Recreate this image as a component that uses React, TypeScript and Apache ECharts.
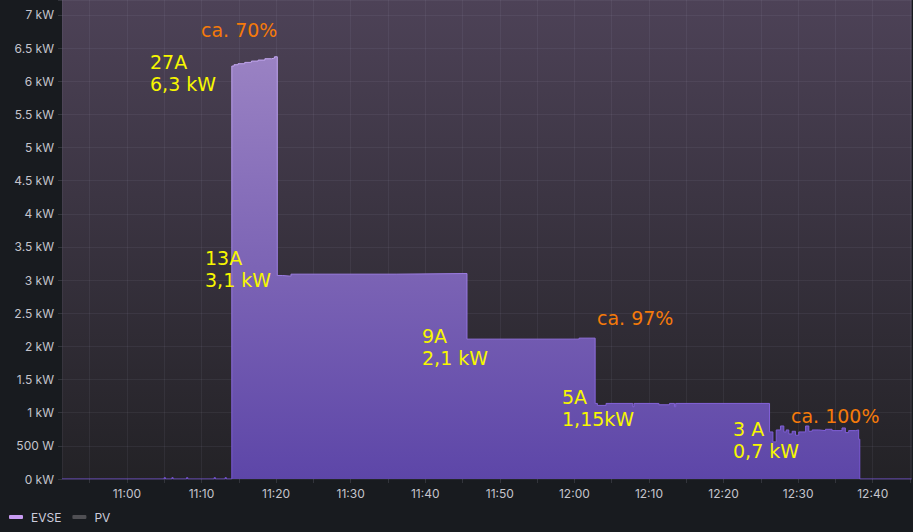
import React, { useEffect, useRef } from "react";
import * as echarts from "echarts";

// ---- data ----
const evseTimes: string[] = [
  "10:51:18", "11:05:00", "11:05:10", "11:06:02", "11:06:12", "11:08:00", "11:08:10",
  "11:11:42", "11:11:52", "11:13:10", "11:13:20",
  "11:14:04", "11:14:22", "11:14:54", "11:15:48", "11:16:42", "11:17:36", "11:18:30", "11:19:24", "11:19:48",
  "11:20:10", "11:20:50", "11:22:00", "11:36:06",
  "11:45:36", "12:00:38",
  "12:02:47", "12:03:05", "12:04:15", "12:07:50", "12:08:00", "12:11:20", "12:12:45", "12:13:25", "12:13:35",
  "12:26:10", "12:26:37", "12:27:04", "12:27:38", "12:28:05", "12:28:24", "12:28:45", "12:29:12", "12:29:39",
  "12:30:05", "12:31:00", "12:31:26", "12:31:53", "12:32:46", "12:33:40", "12:34:33", "12:35:53", "12:36:20",
  "12:36:47", "12:37:41", "12:38:07", "12:38:16", "12:45:13",
];
const evseValues: number[] = [
  0, 0.02, 0, 0.02, 0, 0.02, 0,
  0.02, 0, 0.02, 0,
  6.23, 6.25, 6.265, 6.285, 6.305, 6.32, 6.34, 6.35, 6.37,
  3.07, 3.06, 3.09, 3.1,
  2.11, 2.125,
  1.14, 1.11, 1.14, 1.09, 1.14, 1.12, 1.14, 1.09, 1.14,
  0.71, 0.56, 0.74, 0.8, 0.71, 0.74, 0.68, 0.72, 0.66,
  0.71, 0.8, 0.72, 0.74, 0.73, 0.75, 0.73, 0.77, 0.7,
  0.73, 0.74, 0.6, 0, 0,
];
const pvValues: number[] = [];
const seriesNames = ["EVSE", "PV"];
const axisStart = "10:51:18";
const axisEnd = "12:45:13";

// annotations: text lines, colour
const annotations: { lines: string[]; color: string; x: number; y: number }[] = [
  { lines: ["ca. 70%"], color: "#f57a0a", x: 201, y: 29.5 },
  { lines: ["27A", "6,3 kW"], color: "#f7f700", x: 150, y: 62 },
  { lines: ["13A", "3,1 kW"], color: "#f7f700", x: 205, y: 258 },
  { lines: ["9A", "2,1 kW"], color: "#f7f700", x: 422, y: 336 },
  { lines: ["ca. 97%"], color: "#f57a0a", x: 597, y: 317.5 },
  { lines: ["5A", "1,15kW"], color: "#f7f700", x: 562, y: 397 },
  { lines: ["3 A", "0,7 kW"], color: "#f7f700", x: 733, y: 429 },
  { lines: ["ca. 100%"], color: "#f57a0a", x: 791, y: 415.5 },
];

const toTs = (s: string) => {
  const [h, m, sec] = s.split(":").map(Number);
  return new Date(2023, 5, 1, h, m, sec).getTime();
};
const pad = (n: number) => (n < 10 ? "0" + n : "" + n);

export default function App() {
  const ref = useRef<HTMLDivElement>(null);
  useEffect(() => {
    document.body.style.margin = "0";
    document.body.style.background = "#181b1f";
    const chart = echarts.init(ref.current!, null, { renderer: "svg" });
    const data = evseTimes.map((t, i) => [toTs(t), evseValues[i]]);
    const graphics: any[] = [];
    annotations.forEach((a) => {
      a.lines.forEach((line, j) => {
        graphics.push({
          type: "text",
          x: a.x,
          y: a.y + j * 22,
          z: 100,
          style: {
            text: line,
            fill: a.color,
            font: '19px "DejaVu Sans"',
            textVerticalAlign: "middle",
            verticalAlign: "middle",
            textAlign: "left",
          },
        });
      });
    });
    chart.setOption({
      animation: false,
      backgroundColor: "#181b1f",
      grid: {
        left: 62,
        right: 0,
        top: 0,
        bottom: 53,
        show: true,
        borderWidth: 0,
        backgroundColor: new echarts.graphic.LinearGradient(0, 0, 0, 1, [
          { offset: 0, color: "#4d4257" },
          { offset: 1, color: "#232226" },
        ]),
      },
      legend: {
        left: 9,
        top: 511,
        padding: 0,
        icon: "roundRect",
        itemWidth: 14,
        itemHeight: 4,
        itemGap: 11,
        textStyle: { color: "#ccccdc", fontFamily: "Inter", fontSize: 12, padding: [0, 0, 0, 3] },
        data: [
          { name: seriesNames[0], itemStyle: { color: "#c79bf2" } },
          { name: seriesNames[1], itemStyle: { color: "#4f4f53" } },
        ],
      },
      xAxis: {
        type: "time",
        min: toTs(axisStart),
        max: toTs(axisEnd),
        minInterval: 600000,
        maxInterval: 600000,
        axisLine: { show: false },
        axisTick: { show: true, length: 4, lineStyle: { color: "rgba(204,204,220,0.15)" } },
        splitLine: { show: true, lineStyle: { color: "rgba(204,204,220,0.07)", width: 1 } },
        axisLabel: {
          color: "#c4c4cc",
          fontFamily: "Inter",
          fontSize: 12,
          margin: 8,
          showMinLabel: false,
          showMaxLabel: false,
          formatter: (v: number) => {
            const d = new Date(v);
            if (d.getMinutes() % 10 !== 0 || d.getSeconds() !== 0) return "";
            return pad(d.getHours()) + ":" + pad(d.getMinutes());
          },
        },
      },
      yAxis: {
        type: "value",
        min: 0,
        max: 7.226,
        interval: 0.5,
        axisLine: { show: false },
        axisTick: { show: true, length: 4, lineStyle: { color: "rgba(204,204,220,0.15)" } },
        splitLine: { show: true, lineStyle: { color: "rgba(204,204,220,0.07)", width: 1 } },
        axisLabel: {
          color: "#c4c4cc",
          fontFamily: "Inter",
          fontSize: 12,
          margin: 8,
          formatter: (v: number) => {
            const r = Math.round(v * 2) / 2;
            if (Math.abs(r - v) > 1e-6) return "";
            if (r === 0) return "0 kW";
            if (r === 0.5) return "500 W";
            return r + " kW";
          },
        },
      },
      series: [
        {
          name: seriesNames[0],
          type: "line",
          step: "end",
          showSymbol: false,
          symbol: "none",
          data,
          z: 3,
          lineStyle: {
            width: 1,
            color: new echarts.graphic.LinearGradient(0, 0, 0, 1, [
              { offset: 0, color: "#c2a6f0" },
              { offset: 1, color: "#7654d4" },
            ]),
          },
          itemStyle: { color: "#c79bf2" },
          areaStyle: {
            opacity: 1,
            color: new echarts.graphic.LinearGradient(0, 0, 0, 1, [
              { offset: 0, color: "#9a82c3" },
              { offset: 0.5, color: "#7c64b5" },
              { offset: 1, color: "#5d46a8" },
            ]),
          },
        },
        {
          name: seriesNames[1],
          type: "line",
          showSymbol: false,
          data: pvValues,
          itemStyle: { color: "#4f4f53" },
          lineStyle: { color: "#4f4f53" },
        },
      ],
      graphic: graphics,
    });
    return () => chart.dispose();
  }, []);
  return (
    <div
      ref={ref}
      style={{ position: "fixed", left: 0, top: 0, width: 913, height: 532, background: "#181b1f" }}
    />
  );
}
